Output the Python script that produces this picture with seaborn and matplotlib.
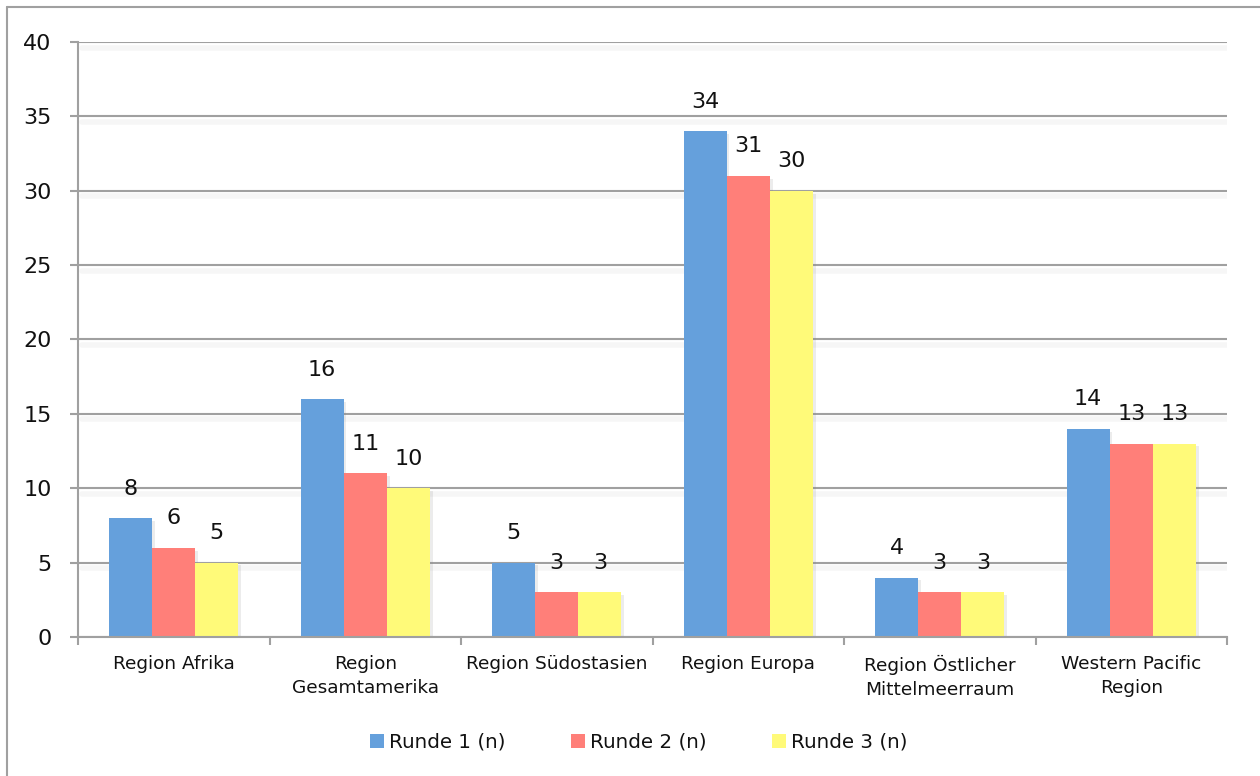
import matplotlib
matplotlib.use("Agg")
import matplotlib.pyplot as plt
import matplotlib.patheffects as pe
from matplotlib.lines import Line2D
from matplotlib.patches import Patch
import seaborn as sns
import pandas as pd
import numpy as np

categories = ["Region Afrika", "Region\nGesamtamerika", "Region Südostasien",
              "Region Europa", "Region Östlicher\nMittelmeerraum", "Western Pacific\nRegion"]
series_names = ["Runde 1 (n)", "Runde 2 (n)", "Runde 3 (n)"]
runde1 = [8, 16, 5, 34, 4, 14]
runde2 = [6, 11, 3, 31, 3, 13]
runde3 = [5, 10, 3, 30, 3, 13]
colors = ["#65A0DC", "#FF7F79", "#FFFA79"]

rows = []
for s, vals in zip(series_names, [runde1, runde2, runde3]):
    for c, v in zip(categories, vals):
        rows.append({"Region": c, "Serie": s, "Wert": v})
df = pd.DataFrame(rows)

sns.set_theme(style="white")
plt.rcParams['font.family'] = ['DejaVu Sans']

fig = plt.figure(figsize=(12.6, 7.76), dpi=100)
ax = fig.add_axes([78/1260, 1-637/776, (1227-78)/1260, (637-42)/776])

sns.barplot(data=df, x="Region", y="Wert", hue="Serie", order=categories,
            hue_order=series_names, palette=colors, width=0.675, gap=0,
            saturation=1, ax=ax, legend=False, linewidth=0,
            edgecolor="none")

for p in ax.patches:
    p.set_path_effects([pe.SimplePatchShadow(offset=(2, -2), shadow_rgbFace="gray", alpha=0.15), pe.Normal()])

for cont in ax.containers:
    ax.bar_label(cont, padding=14, fontsize=16, color="#111111")

ax.set_ylim(0, 40)
ax.set_xlim(-0.5, 5.5)
ax.set_yticks(np.arange(0, 41, 5))
ax.set_xlabel("")
ax.set_ylabel("")
ax.yaxis.grid(True, color="#A0A0A0", linewidth=1.5)
for gl in ax.get_ygridlines():
    gl.set_path_effects([pe.SimpleLineShadow(offset=(3, -4), shadow_color="gray", alpha=0.07, linewidth=4), pe.Normal()])
ax.xaxis.grid(False)
ax.set_axisbelow(True)

for side in ["top", "right"]:
    ax.spines[side].set_visible(False)
for side in ["left", "bottom"]:
    ax.spines[side].set_color("#A0A0A0")
    ax.spines[side].set_linewidth(1.5)

ax.tick_params(axis="y", which="major", length=6, width=1.5, color="#A0A0A0",
               labelsize=16, labelcolor="#111111", pad=13, direction="out", left=True)
ax.set_xticks(np.arange(-0.5, 5.6, 1.0), minor=True)
ax.tick_params(axis="x", which="minor", length=6, width=1.5, color="#A0A0A0", direction="out", bottom=True)
ax.tick_params(axis="x", which="major", length=0, labelsize=13.3, labelcolor="#111111", pad=13)
for lab in ax.get_xticklabels():
    lab.set_linespacing(1.4)
    lab.set_verticalalignment("top")

handles = [Patch(facecolor=c, edgecolor="none") for c in colors]
fig.legend(handles, series_names, loc="center", bbox_to_anchor=(0.507, 1-742/776),
           ncol=3, frameon=False, fontsize=14.3, handlelength=0.7, handleheight=0.7,
           handletextpad=0.25, columnspacing=3.3, labelcolor="#111111")

fig.add_artist(Line2D([7/1260, 7/1260], [0, 1-7/776], color="#A0A0A0", linewidth=1.5, transform=fig.transFigure))
fig.add_artist(Line2D([7/1260, 1.0], [1-7/776, 1-7/776], color="#A0A0A0", linewidth=1.5, transform=fig.transFigure))

fig.savefig("out.png", dpi=100, facecolor="white")
